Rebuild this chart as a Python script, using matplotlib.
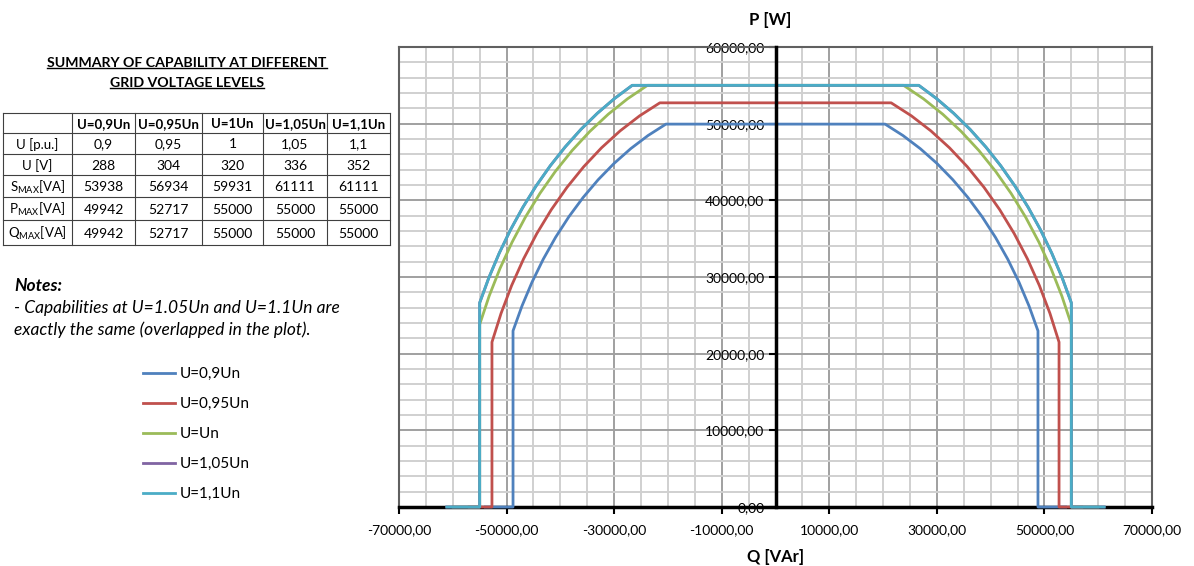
import numpy as np
import matplotlib.pyplot as plt
from matplotlib.ticker import FuncFormatter, MultipleLocator

plt.rcParams['font.family'] = ['Lato', 'DejaVu Sans']
plt.rcParams['mathtext.fontset'] = 'custom'
plt.rcParams['mathtext.rm'] = 'Lato'
plt.rcParams['axes.unicode_minus'] = False

# data
labels = ['U=0,9Un', 'U=0,95Un', 'U=Un', 'U=1,05Un', 'U=1,1Un']
colors = ['#4F81BD', '#C0504D', '#9BBB59', '#8064A2', '#4BACC6']
s_max = [53938, 56934, 59931, 61111, 61111]
p_max = [49942, 52717, 55000, 55000, 55000]
q_lim = [48800, 52717, 55000, 55000, 55000]  # Q limit as drawn in the plot

col_heads = ['U=0,9Un', 'U=0,95Un', 'U=1Un', 'U=1,05Un', 'U=1,1Un']
row_heads = ['U [p.u.]', 'U [V]', r'S$_{\mathrm{MAX}}$[VA]',
             r'P$_{\mathrm{MAX}}$[VA]', r'Q$_{\mathrm{MAX}}$[VA]']
u_pu = ['0,9', '0,95', '1', '1,05', '1,1']
u_v = ['288', '304', '320', '336', '352']
s_tab = ['53938', '56934', '59931', '61111', '61111']
p_tab = ['49942', '52717', '55000', '55000', '55000']
q_tab = ['49942', '52717', '55000', '55000', '55000']


def capability(s, p, q):
    # P=0 -> Q limit -> circle S -> P limit, mirrored for negative Q
    a_top = np.arctan2(p, np.sqrt(s**2 - p**2))
    a_side = np.arctan2(np.sqrt(s**2 - q**2), q)
    ang = np.linspace(a_top, a_side, 12)
    rq = np.r_[s * np.cos(ang), q, s]
    rp = np.r_[s * np.sin(ang), 0, 0]
    return np.r_[-rq[::-1], rq], np.r_[rp[::-1], rp]


W, H = 1194, 566
fig = plt.figure(figsize=(W / 100, H / 100), dpi=100)
ax = fig.add_axes([399 / W, 1 - 507 / H, 753 / W, 460 / H])
ax.set_xlim(-70000, 70000)
ax.set_ylim(0, 60000)
ax.set_xticks(np.arange(-70000, 70001, 20000))
ax.xaxis.set_minor_locator(MultipleLocator(5000))
ax.yaxis.set_major_locator(MultipleLocator(10000))
ax.yaxis.set_minor_locator(MultipleLocator(2000))
ax.grid(which='minor', color='#d0d0d0', lw=1.4)
ax.grid(which='major', color='#a0a0a0', lw=1.4)
ax.set_axisbelow(True)

fmt = FuncFormatter(lambda v, pos: ('%.2f' % v).replace('.', ','))
ax.xaxis.set_major_formatter(fmt)
ax.yaxis.set_major_formatter(fmt)

ax.spines['left'].set_position(('data', 0))
ax.spines['left'].set_color('black')
ax.spines['left'].set_linewidth(2.5)
ax.spines['left'].set_zorder(4)
ax.spines['bottom'].set_color('black')
ax.spines['bottom'].set_linewidth(2.5)
for side in ['top', 'right']:
    ax.spines[side].set_color('#606060')
    ax.spines[side].set_linewidth(1.5)
ax.axvline(-70000, color='#606060', lw=1.5, clip_on=False)

ax.tick_params(which='minor', length=0)
ax.tick_params(which='major', direction='out', length=5, width=1.5,
               color='black', labelsize=10, pad=3)
ax.tick_params(axis='x', which='major', pad=7)

lines = []
for i in range(len(labels)):
    q, p = capability(s_max[i], p_max[i], q_lim[i])
    ln, = ax.plot(q, p, color=colors[i], lw=2, zorder=3, clip_on=False,
                  label=labels[i])
    lines.append(ln)

# overlay in pixel coordinates for texts and table
ov = fig.add_axes([0, 0, 1, 1])
ov.set_xlim(0, W)
ov.set_ylim(H, 0)
ov.axis('off')

ov.text(770, 20, 'P [W]', ha='center', va='center', weight='bold', size=12)
ov.text(776, 557, 'Q [VAr]', ha='center', va='center', weight='bold', size=12)

t1 = ov.text(187, 63, 'SUMMARY OF CAPABILITY AT DIFFERENT', ha='center',
             va='center', weight='bold', size=10.2)
t2 = ov.text(187, 83, 'GRID VOLTAGE LEVELS', ha='center', va='center',
             weight='bold', size=10.2)
fig.canvas.draw()
inv = ov.transData.inverted()
for t in [t1, t2]:
    bb = t.get_window_extent()
    (x0, y0), (x1, _) = inv.transform([[bb.x0, bb.y0], [bb.x1, bb.y1]])
    ov.plot([x0, x1], [y0 - 1, y0 - 1], color='black', lw=1)

# table
cx = [3, 72, 135, 202, 263, 327, 390]
ry = [113, 133, 154, 175, 197, 220, 245]
for x in cx:
    ov.plot([x, x], [ry[0], ry[-1]], color='#404040', lw=0.8)
for y in ry:
    ov.plot([cx[0], cx[-1]], [y, y], color='#404040', lw=0.8)
rows = [u_pu, u_v, s_tab, p_tab, q_tab]
for j, h in enumerate(col_heads):
    ov.text((cx[j + 1] + cx[j + 2]) / 2, (ry[0] + ry[1]) / 2 + 1, h,
            ha='center', va='center', weight='bold', size=9.5)
for i, r in enumerate(rows):
    yc = (ry[i + 1] + ry[i + 2]) / 2 + 1
    ov.text((cx[0] + cx[1]) / 2, yc, row_heads[i], ha='center', va='center',
            size=9.5)
    for j, v in enumerate(r):
        ov.text((cx[j + 1] + cx[j + 2]) / 2, yc, v, ha='center', va='center',
                size=10)

# notes
ov.text(14, 286, 'Notes:', weight='bold', style='italic', size=12.5,
        va='center')
ov.text(14, 308, '- Capabilities at U=1.05Un and U=1.1Un are',
        style='italic', size=12.5, va='center')
ov.text(14, 330, 'exactly the same (overlapped in the plot).',
        style='italic', size=12.5, va='center')

fig.legend(lines, labels, loc='upper left', bbox_to_anchor=(143 / W, 1 - 367 / H),
           frameon=False, fontsize=11, handlelength=2.1, handletextpad=0.3,
           labelspacing=1.05, borderpad=0, borderaxespad=0)

fig.savefig('out.png', dpi=100)
